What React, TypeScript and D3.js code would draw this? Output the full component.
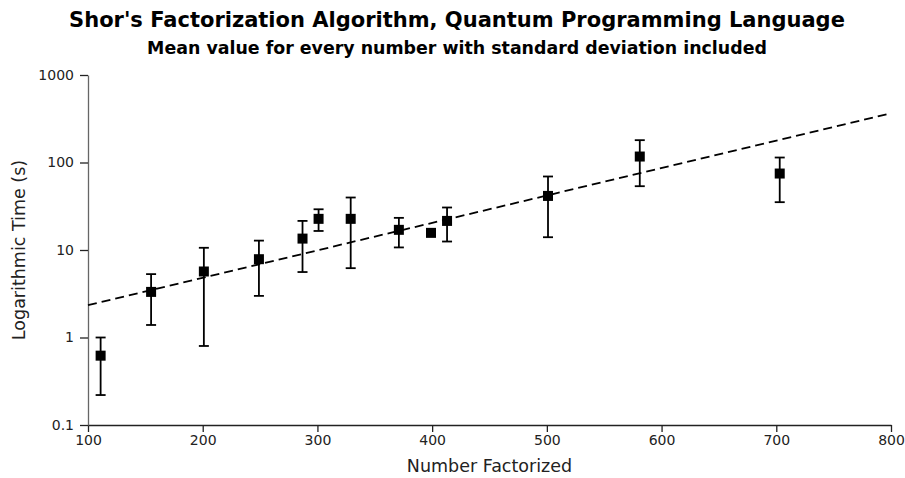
import React, { useRef, useEffect } from 'react';
import * as d3 from 'd3';

const numbers = [111, 155, 201, 249, 287, 301, 329, 371, 399, 413, 501, 581, 703];
const means = [0.62, 3.32, 5.68, 7.85, 13.5, 22.7, 22.7, 17.0, 15.7, 21.5, 41.5, 117, 74.8];
const upper = [1.0, 5.3, 10.6, 12.8, 21.5, 29.2, 39.8, 23.3, 15.7, 30.6, 69.2, 180, 114];
const lower = [0.22, 1.39, 0.8, 2.99, 5.6, 16.5, 6.2, 10.7, 15.7, 12.5, 14.0, 53.6, 35.2];
const trendX = [100, 800];
const trendY = [2.34, 366];
const xTicks = [100, 200, 300, 400, 500, 600, 700, 800];
const yTicks = [0.1, 1, 10, 100, 1000];

const W = 905;
const H = 478;
const margin = { top: 75, right: 14, bottom: 53, left: 88 };

const App = () => {
  const svgRef = useRef<SVGSVGElement>(null);

  useEffect(() => {
    const svg = d3.select(svgRef.current);
    svg.selectAll('*').remove();

    const x = d3.scaleLinear().domain([100, 800]).range([margin.left, W - margin.right]);
    const y = d3.scaleLog().domain([0.1, 1000]).range([H - margin.bottom, margin.top]);

    // titles
    svg
      .append('text')
      .attr('x', 457)
      .attr('y', 27)
      .attr('text-anchor', 'middle')
      .attr('font-weight', 'bold')
      .attr('font-size', 21)
      .text("Shor's Factorization Algorithm, Quantum Programming Language");
    svg
      .append('text')
      .attr('x', 457)
      .attr('y', 54)
      .attr('text-anchor', 'middle')
      .attr('font-weight', 'bold')
      .attr('font-size', 17.4)
      .text('Mean value for every number with standard deviation included');

    // axes
    const xAxis = svg
      .append('g')
      .attr('transform', `translate(0,${H - margin.bottom})`)
      .call(d3.axisBottom(x).tickValues(xTicks).tickSizeInner(7).tickSizeOuter(0).tickPadding(3).tickFormat(d3.format('d')));
    xAxis.select('.domain').attr('stroke', '#222').attr('stroke-width', 1.3);
    xAxis.selectAll('.tick line').attr('stroke', '#222').attr('stroke-width', 1.3);
    xAxis.selectAll('text').attr('font-size', 14).attr('fill', '#222').attr('font-family', 'DejaVu Sans');

    const yAxis = svg
      .append('g')
      .attr('transform', `translate(${margin.left},0)`)
      .call(d3.axisLeft(y).tickValues(yTicks).tickSizeInner(8).tickSizeOuter(0).tickPadding(6).tickFormat((d) => String(d)));
    yAxis.select('.domain').attr('stroke', '#666').attr('stroke-width', 1.3);
    yAxis.selectAll('.tick line').attr('stroke', '#222').attr('stroke-width', 1.3);
    yAxis.selectAll('text').attr('font-size', 14).attr('fill', '#222').attr('font-family', 'DejaVu Sans');

    // axis labels
    svg
      .append('text')
      .attr('x', (margin.left + W - margin.right) / 2)
      .attr('y', 472)
      .attr('text-anchor', 'middle')
      .attr('font-size', 17.5)
      .attr('fill', '#222')
      .text('Number Factorized');
    svg
      .append('text')
      .attr('transform', `translate(25,${y(10)}) rotate(-90)`)
      .attr('text-anchor', 'middle')
      .attr('font-size', 17.5)
      .attr('fill', '#222')
      .text('Logarithmic Time (s)');

    // trend line
    const line = d3
      .line<number>()
      .x((d) => x(trendX[d]))
      .y((d) => y(trendY[d]));
    svg
      .append('path')
      .attr('d', line([0, 1]))
      .attr('fill', 'none')
      .attr('stroke', 'black')
      .attr('stroke-width', 1.8)
      .attr('stroke-dasharray', '9,5');

    // error bars
    const idx = d3.range(numbers.length).filter((i) => upper[i] !== lower[i]);
    const eb = svg.append('g').attr('stroke', 'black').attr('stroke-width', 1.8);
    eb.selectAll('.v')
      .data(idx)
      .enter()
      .append('line')
      .attr('x1', (i) => x(numbers[i]))
      .attr('x2', (i) => x(numbers[i]))
      .attr('y1', (i) => y(upper[i]))
      .attr('y2', (i) => y(lower[i]));
    [upper, lower].forEach((arr) => {
      eb.selectAll(null)
        .data(idx)
        .enter()
        .append('line')
        .attr('x1', (i) => x(numbers[i]) - 5)
        .attr('x2', (i) => x(numbers[i]) + 5)
        .attr('y1', (i) => y(arr[i]))
        .attr('y2', (i) => y(arr[i]));
    });

    // markers
    svg
      .append('g')
      .selectAll('rect')
      .data(d3.range(numbers.length))
      .enter()
      .append('rect')
      .attr('x', (i) => x(numbers[i]) - 5)
      .attr('y', (i) => y(means[i]) - 5)
      .attr('width', 10)
      .attr('height', 10)
      .attr('fill', 'black');
  }, []);

  return (
    <svg
      ref={svgRef}
      width={W}
      height={H}
      style={{ position: 'absolute', left: 0, top: 0, background: 'white', fontFamily: 'DejaVu Sans' }}
    />
  );
};

export default App;
